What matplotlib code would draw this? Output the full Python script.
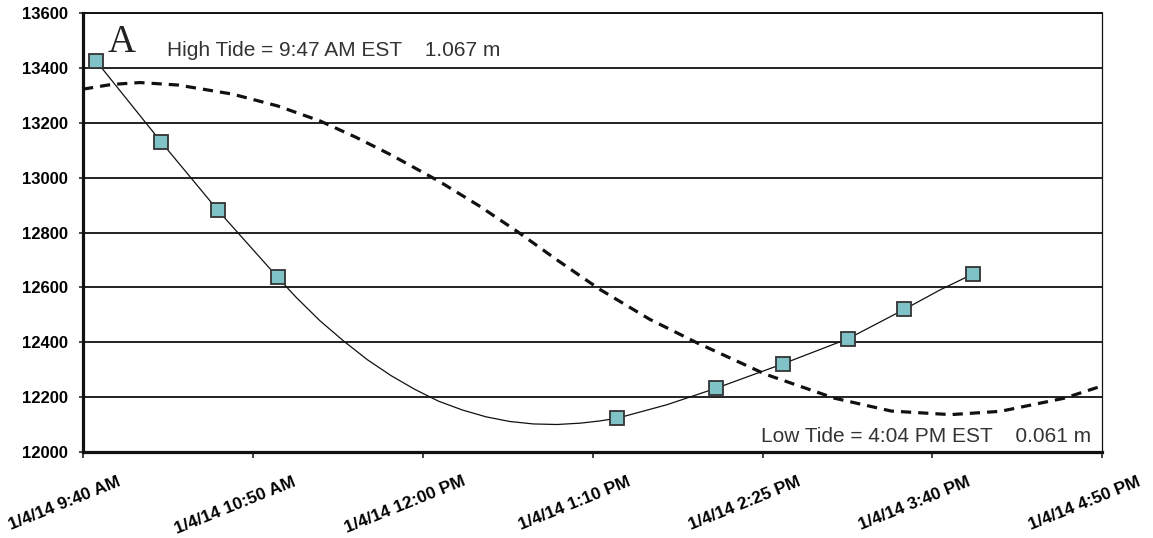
import numpy as np
import matplotlib
matplotlib.use('Agg')
import matplotlib.pyplot as plt
import matplotlib.transforms as mtransforms

# time in minutes after 1/4/14 9:40 AM
sample_min = [5.5, 33.0, 56.8, 82.1, 225.4, 267.0, 295.2, 322.8, 346.5, 375.5]
sample_val = [13426, 13130, 12882, 12637, 12123, 12232, 12321, 12413, 12520, 12649]

# smoothed line through the samples
curve_min = [5.5, 33.0, 56.8, 82.1, 90, 100, 110, 120, 130, 140, 150, 160, 170, 180, 190,
             200, 210, 218, 225.4, 246.3, 267.0, 295.2, 322.8, 346.5, 361.6, 375.5]
curve_val = [13426, 13130, 12882, 12637, 12563, 12478, 12404, 12336, 12278, 12228, 12185,
             12153, 12128, 12111, 12102, 12100, 12105, 12113, 12123, 12172, 12232, 12321,
             12413, 12520, 12591, 12649]

# tide curve (dashed)
tide_min = [0, 12, 24, 40, 63, 82, 100, 115, 130, 150, 167, 183, 200, 218, 239,
            259, 288, 317, 341, 366, 387, 414, 430]
tide_val = [13323, 13340, 13347, 13338, 13305, 13262, 13207, 13148, 13083, 12988, 12898,
            12805, 12700, 12593, 12484, 12398, 12283, 12196, 12149, 12136, 12148, 12196, 12241]

tick_labels = ['1/4/14 9:40 AM', '1/4/14 10:50 AM', '1/4/14 12:00 PM', '1/4/14 1:10 PM',
               '1/4/14 2:25 PM', '1/4/14 3:40 PM', '1/4/14 4:50 PM']
y_ticks = [12000, 12200, 12400, 12600, 12800, 13000, 13200, 13400, 13600]

high_text = 'High Tide = 9:47 AM EST    1.067 m'
low_text = 'Low Tide = 4:04 PM EST    0.061 m'

plt.rcParams['font.family'] = ['Liberation Sans', 'DejaVu Sans']

fig = plt.figure(figsize=(11.53, 5.38), dpi=100)
ax = fig.add_axes([0.072, 0.16, 0.884, 0.8155])

ax.plot(tide_min, tide_val, color='#111111', lw=2.3, dashes=(3.2, 2.2), zorder=3)
ax.plot(curve_min, curve_val, color='#111111', lw=0.9, zorder=4)
ax.plot(sample_min, sample_val, ls='none', marker='s', ms=10, mfc='#7fc3c6',
        mec='#333333', mew=1.3, zorder=5)

ax.set_xlim(0, 430)
ax.set_ylim(12000, 13600)
ax.set_xticks(np.linspace(0, 430, len(tick_labels)))
ax.set_xticklabels(tick_labels, rotation=22, ha='center', va='top',
                   fontsize=12.5, fontweight='bold')
ax.set_yticks(y_ticks)
ax.set_yticklabels([str(v) for v in y_ticks], fontsize=12, fontweight='bold')
ax.tick_params(axis='x', length=4, width=1.2, pad=12, color='#222222')
ax.tick_params(axis='y', length=3, width=1.2, pad=8, color='#222222')

# shift rotated date labels left of their ticks, like the original
offset = mtransforms.ScaledTranslation(-18 / 100, 0, fig.dpi_scale_trans)
for lab in ax.get_xticklabels():
    lab.set_transform(lab.get_transform() + offset)

ax.yaxis.grid(True, color='#222222', lw=1.4)
ax.set_axisbelow(True)
ax.spines['left'].set_linewidth(2.3)
ax.spines['bottom'].set_linewidth(2.3)
ax.spines['top'].set_linewidth(1.4)
ax.spines['right'].set_linewidth(0.9)
for s in ax.spines.values():
    s.set_color('#111111')

ax.text(0.0245, 0.912, 'A', transform=ax.transAxes, fontsize=28,
        family=['Liberation Serif', 'DejaVu Serif'], ha='left', va='baseline', color='#222222')
ax.text(0.0824, 0.903, high_text, transform=ax.transAxes, fontsize=15,
        ha='left', va='baseline', color='#333333')
ax.text(0.989, 0.0235, low_text, transform=ax.transAxes, fontsize=15,
        ha='right', va='baseline', color='#333333')

fig.savefig('out.png', dpi=100)
